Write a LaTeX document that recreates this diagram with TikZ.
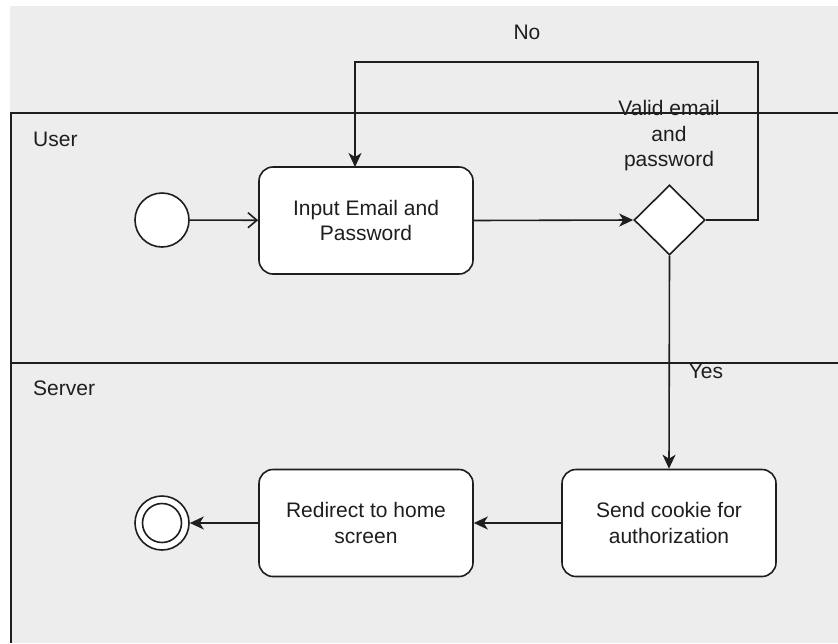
\documentclass[tikz,border=0pt]{standalone}
\usepackage{fontspec}
\setmainfont{Liberation Sans}
\usetikzlibrary{arrows.meta,shapes.geometric}
\definecolor{lanebg}{HTML}{EDEDED}
\definecolor{ink}{HTML}{1E1E1E}
\tikzset{
  every node/.style={font=\fontsize{21}{25.5}\selectfont, text=ink},
  ln/.style={draw=ink, line width=1.6pt},
  actbox/.style={ln, fill=white, rounded corners=14pt, minimum width=214pt, minimum height=107pt, align=center, inner sep=0pt},
  startnode/.style={ln, fill=white, circle, minimum size=54pt, inner sep=0pt},
  decnode/.style={ln, fill=white, diamond, minimum width=71pt, minimum height=70pt, inner sep=0pt},
  filledarrow/.style={ln, -{Stealth[length=14pt,width=13pt,inset=4pt]}},
  openarrow/.style={ln, -{Straight Barb[length=9pt,width=15pt]}},
  lanelabel/.style={anchor=base west, inner sep=0pt},
  edgelabel/.style={anchor=base, inner sep=0pt}
}
\begin{document}
\begin{tikzpicture}[x=1pt,y=-1pt]
\useasboundingbox (0,0) rectangle (838,643);
\fill[white] (0,0) rectangle (838,643);
\fill[lanebg] (10,6) rectangle (838,643);
% swimlanes
\draw[ln] (10,113) -- (838,113);
\draw[ln] (11,113) -- (11,643);
\draw[ln] (11,363) -- (838,363);
\node[lanelabel] (user) at (33,146) {User};
\node[lanelabel] (server) at (33,395) {Server};
% nodes
\node[startnode] (start) at (162,220) {};
\node[actbox] (inp) at (366,220.5) {Input Email and\\Password};
\node[decnode] (dia) at (669.5,220) {};
\node[align=center, inner sep=0pt] (dlabel) at (669,136) {Valid email\\and\\password};
\node[actbox] (send) at (669,523) {Send cookie for\\authorization};
\node[actbox] (red) at (366,523) {Redirect to home\\screen};
\node[startnode] (end) at (162,523) {};
\node[ln, fill=white, circle, minimum size=39pt, inner sep=0pt] (endin) at (end) {};
% connectors
\coordinate (ntop) at (758,62);
\coordinate (ntarget) at (355,167);
\draw[openarrow] (start) -- (inp);
\draw[filledarrow] (inp.east) -- (dia.west);
\draw[filledarrow] (dia.east) -| (ntop) -| (ntarget);
\draw[filledarrow] (dia.south) -- (send.north);
\draw[filledarrow] (send.west) -- (red.east);
\draw[filledarrow] (red.west) -- (end.east);
\node[edgelabel] (nolbl) at (527,39) {No};
\node[edgelabel] (yeslbl) at (706,378) {Yes};
\end{tikzpicture}
\end{document}
